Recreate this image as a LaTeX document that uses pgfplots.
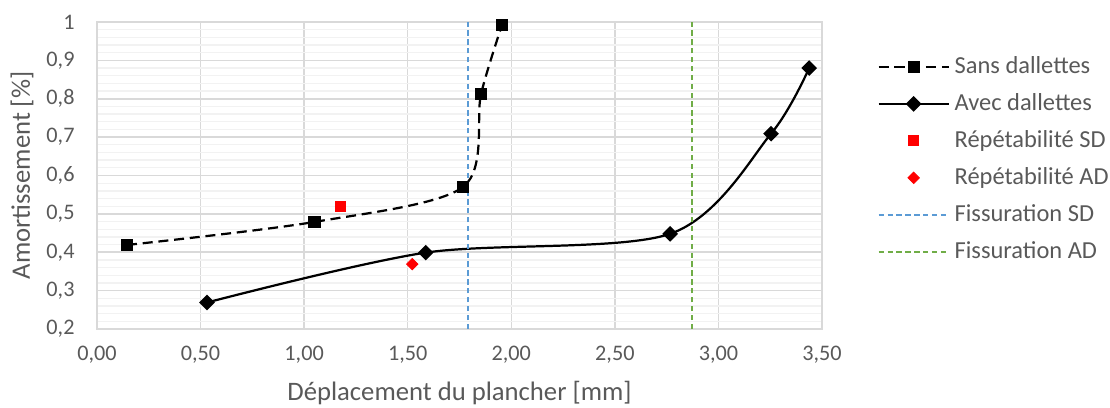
\documentclass[border=0pt]{standalone}
\usepackage{pgfplots}
\pgfplotsset{compat=1.18}
\usepackage{fontspec}
\setmainfont{Carlito}
\definecolor{txt}{HTML}{595959}
\definecolor{gmaj}{HTML}{D9D9D9}
\definecolor{gmin}{HTML}{F2F2F2}
\definecolor{fsd}{HTML}{5B9BD5}
\definecolor{fad}{HTML}{70AD47}
\begin{document}
\begin{tikzpicture}
% 1 px of the reference = 0.45pt
\path[use as bounding box] (-43.65pt,-35.55pt) rectangle (455.85pt,148.05pt);
\begin{axis}[
  scale only axis,
  width=326.25pt, height=138.15pt,
  xmin=0, xmax=3.5, ymin=0.2, ymax=1,
  xtick={0,0.5,...,3.5},
  xticklabels={{0,00},{0,50},{1,00},{1,50},{2,00},{2,50},{3,00},{3,50}},
  ytick={0.2,0.3,...,1.0},
  yticklabels={{0,2},{0,3},{0,4},{0,5},{0,6},{0,7},{0,8},{0,9},1},
  minor ytick={0.22,0.24,...,0.99},
  major tick length=0pt, minor tick length=0pt,
  grid=both,
  major grid style={gmaj, line width=0.7pt},
  minor grid style={gmin, line width=0.6pt},
  axis line style={gmaj, line width=0.7pt},
  tick label style={font=\fontsize{10}{11}\selectfont, text=txt},
  xticklabel style={anchor=center, yshift=-11.7pt},
  yticklabel style={anchor=east, xshift=-9.9pt, inner sep=0pt},
  xlabel={Déplacement du plancher [mm]},
  ylabel={Amortissement [\%]},
  every axis x label/.style={at={(axis description cs:0.5,-0.2085)}, anchor=center,
    font=\fontsize{12}{14}\selectfont, text=txt},
  every axis y label/.style={at={(axis description cs:-0.1034,0.5)}, rotate=90, anchor=center,
    font=\fontsize{12}{14}\selectfont, text=txt},
  legend style={draw=none, fill=none, at={(axis description cs:1.076,0.904)}, anchor=north west,
    font=\fontsize{11}{13}\selectfont, text=txt, inner sep=0pt, row sep=3.1pt,
    nodes={inner sep=2.2pt}},
  legend cell align=left,
  legend image code/.code={\draw[mark repeat=2,mark phase=2,#1] plot coordinates {(0pt,0pt) (15.75pt,0pt) (31.5pt,0pt)};},
  clip=false,
]
\addplot[black, line width=1pt, dash pattern=on 4.5pt off 2.6pt, smooth, tension=0.5,
  mark=square*, mark size=2.25pt, mark options={solid}]
  coordinates {(0.145,0.419) (1.05,0.479) (1.767,0.570) (1.854,0.8125) (1.955,0.992)};
\addlegendentry{Sans dallettes}
\addplot[black, line width=1pt, smooth, tension=0.5,
  mark=square*, mark size=2pt, mark options={rotate=45}]
  coordinates {(0.531,0.269) (1.587,0.399) (2.767,0.448) (3.254,0.709) (3.438,0.880)};
\addlegendentry{Avec dallettes}
\addplot[only marks, red, mark=square*, mark size=2.25pt]
  coordinates {(1.175,0.52)};
\addlegendentry{Répétabilité SD}
\addplot[only marks, red, mark=square*, mark size=1.8pt, mark options={rotate=45}]
  coordinates {(1.522,0.369)};
\addlegendentry{Répétabilité AD}
\addplot[fsd, line width=0.9pt, dash pattern=on 2.4pt off 1.6pt]
  coordinates {(1.79,0.2) (1.79,1)};
\addlegendentry{Fissuration SD}
\addplot[fad, line width=0.9pt, dash pattern=on 2.4pt off 1.6pt]
  coordinates {(2.873,0.2) (2.873,1)};
\addlegendentry{Fissuration AD}
\end{axis}
\end{tikzpicture}
\end{document}
